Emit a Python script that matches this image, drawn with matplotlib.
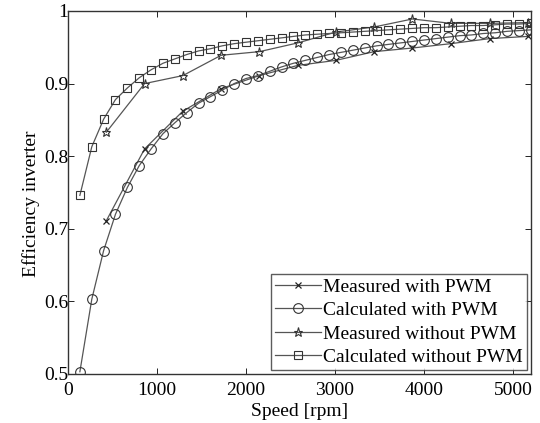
import matplotlib
matplotlib.use("Agg")
import matplotlib.pyplot as plt

plt.rcParams["font.family"] = ["Liberation Serif", "DejaVu Serif"]
plt.rcParams["mathtext.fontset"] = "stix"

# calculated curves (fine speed grid)
speed_calc = [133, 267, 400, 533, 667, 800, 933, 1067, 1200, 1333,
              1467, 1600, 1733, 1867, 2000, 2133, 2267, 2400, 2533, 2667,
              2800, 2933, 3067, 3200, 3333, 3467, 3600, 3733, 3867, 4000,
              4133, 4267, 4400, 4533, 4667, 4800, 4933, 5067, 5200]
calc_pwm = [0.503, 0.603, 0.670, 0.720, 0.757, 0.787, 0.810, 0.831, 0.846, 0.860,
            0.873, 0.882, 0.891, 0.900, 0.907, 0.911, 0.917, 0.923, 0.928, 0.932,
            0.936, 0.940, 0.943, 0.946, 0.949, 0.952, 0.954, 0.956, 0.958, 0.960,
            0.962, 0.964, 0.966, 0.967, 0.969, 0.970, 0.972, 0.973, 0.974]
calc_nopwm = [0.746, 0.813, 0.851, 0.878, 0.894, 0.908, 0.919, 0.928, 0.934, 0.940,
              0.945, 0.948, 0.952, 0.955, 0.957, 0.959, 0.961, 0.963, 0.965, 0.967,
              0.968, 0.969, 0.970, 0.971, 0.972, 0.973, 0.974, 0.975, 0.976, 0.977,
              0.977, 0.978, 0.979, 0.980, 0.980, 0.981, 0.982, 0.982, 0.983]

# measured curves (coarse speed grid)
speed_meas = [430, 860, 1290, 1720, 2150, 2580, 3010, 3440, 3870, 4300, 4740, 5170]
meas_pwm = [0.711, 0.810, 0.862, 0.893, 0.911, 0.925, 0.932, 0.944, 0.949, 0.955, 0.962, 0.965]
meas_nopwm = [0.833, 0.900, 0.911, 0.939, 0.944, 0.956, 0.971, 0.978, 0.989, 0.983, 0.983, 0.984]

fig = plt.figure(figsize=(5.4, 4.23), dpi=100)
ax = fig.add_axes([0.126, 0.116, 0.857, 0.858])

line_col = "#555555"
ax.plot(speed_meas, meas_pwm, color=line_col, lw=0.9, marker="x", ms=5,
        mec="#222222", mew=0.9, label="Measured with PWM")
ax.plot(speed_calc, calc_pwm, color=line_col, lw=0.9, marker="o", ms=7,
        mfc="none", mec="#333333", mew=0.8, label="Calculated with PWM")
ax.plot(speed_meas, meas_nopwm, color=line_col, lw=0.9, marker="*", ms=6.5,
        mfc="none", mec="#333333", mew=0.8, label="Measured without PWM")
ax.plot(speed_calc, calc_nopwm, color=line_col, lw=0.9, marker="s", ms=6,
        mfc="none", mec="#333333", mew=0.8, label="Calculated without PWM")

ax.set_xlim(0, 5200)
ax.set_ylim(0.5, 1.0)
ax.set_xticks([0, 1000, 2000, 3000, 4000, 5000])
ax.set_yticks([0.5, 0.6, 0.7, 0.8, 0.9, 1.0])
ax.set_yticklabels(["0.5", "0.6", "0.7", "0.8", "0.9", "1"])
ax.tick_params(direction="in", labelsize=14, top=True, right=True,
               length=4, width=0.6)
ax.tick_params(axis="x", pad=6)
ax.tick_params(axis="y", pad=0)
for s in ax.spines.values():
    s.set_linewidth(1.0)
    s.set_color("#333333")

ax.set_xlabel("Speed [rpm]", fontsize=14, labelpad=3)
ax.set_ylabel("Efficiency inverter", fontsize=14)
ax.yaxis.set_label_coords(-0.06, 0.47)

leg = ax.legend(loc="lower right", fontsize=14, frameon=True, fancybox=False,
                edgecolor="#333333", handlelength=2.4, handletextpad=0.1,
                labelspacing=0.3, borderpad=0.2, borderaxespad=0.2)
leg.get_frame().set_linewidth(1.0)

fig.savefig("out.png", dpi=100)
